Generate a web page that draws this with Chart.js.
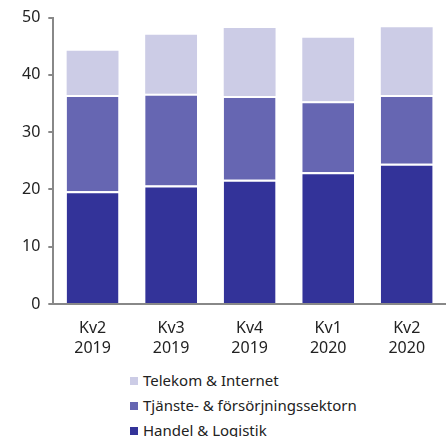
<!DOCTYPE html>
<html>
<head>
<meta charset="utf-8">
<script src="https://cdn.jsdelivr.net/npm/chart.js@4"></script>
<style>
  body { margin: 0; background: #fff; font-family: "Noto Sans", sans-serif; }
  #wrap { position: relative; width: 446px; height: 364px; }
  #legend { list-style: none; margin: 4px 0 0 0; padding: 0 0 0 130px; }
  #legend li { height: 25px; line-height: 25px; font-size: 15px; color: #222; }
  #legend span.box { display: inline-block; width: 8px; height: 8px; margin-right: 5px; vertical-align: 1px; }
</style>
</head>
<body>
<div id="wrap"><canvas id="chart"></canvas></div>
<ul id="legend"></ul>
<script>
// Quarters on x axis (two-line labels)
const quarters = [['Kv2', '2019'], ['Kv3', '2019'], ['Kv4', '2019'], ['Kv1', '2020'], ['Kv2', '2020']];

// Stacked series, bottom to top
const handelLogistik = [19.7, 20.7, 21.7, 23.0, 24.5];
const tjansteForsorjning = [16.8, 16.0, 14.6, 12.4, 12.0];
const telekomInternet = [7.7, 10.3, 11.9, 11.1, 11.8];

const yTicks = [0, 10, 20, 30, 40, 50];

const colors = {
    dark: '#333399',
    mid: '#6666b2',
    light: '#ccccE6'
};

// white gap drawn on top of the lower segments only
function series(label, data, color, gap) {
    return {
        label: label,
        data: data,
        backgroundColor: color,
        borderColor: '#ffffff',
        borderWidth: { top: gap, left: 0, right: 0, bottom: 0 },
        borderSkipped: false,
        categoryPercentage: 1,
        barPercentage: 0.66
    };
}

const ctx = document.getElementById('chart').getContext('2d');
const chart = new Chart(ctx, {
    type: 'bar',
    data: {
        labels: quarters,
        datasets: [
            series('Handel & Logistik', handelLogistik, colors.dark, 2),
            series('Tjänste- & försörjningssektorn', tjansteForsorjning, colors.mid, 2),
            series('Telekom & Internet', telekomInternet, colors.light, 0)
        ]
    },
    options: {
        responsive: true,
        maintainAspectRatio: false,
        animation: false,
        layout: { padding: { left: 14, top: 10, right: 0, bottom: 0 } },
        plugins: {
            legend: { display: false },
            tooltip: { enabled: false }
        },
        scales: {
            x: {
                stacked: true,
                grid: { display: false },
                border: { color: '#888', width: 2 },
                ticks: { color: '#222', font: { family: 'Noto Sans', size: 16, lineHeight: 1.25 }, padding: 6 }
            },
            y: {
                stacked: true,
                min: 0,
                max: 50,
                afterBuildTicks: axis => { axis.ticks = yTicks.map(v => ({ value: v })); },
                grid: { drawOnChartArea: false, color: '#888', tickLength: 5, lineWidth: 2 },
                border: { color: '#888', width: 2 },
                ticks: { color: '#222', font: { family: 'Noto Sans', size: 16 }, padding: 8 }
            }
        }
    }
});

// Vertical legend below the chart, top series first
const legendEl = document.getElementById('legend');
chart.data.datasets.slice().reverse().forEach(ds => {
    const li = document.createElement('li');
    const box = document.createElement('span');
    box.className = 'box';
    box.style.background = ds.backgroundColor;
    li.appendChild(box);
    li.appendChild(document.createTextNode(ds.label));
    legendEl.appendChild(li);
});
</script>
</body>
</html>
